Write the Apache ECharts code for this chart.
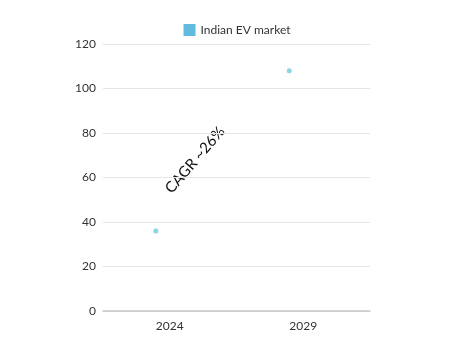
<!DOCTYPE html>
<html><head><meta charset="utf-8">
<script src="https://cdn.jsdelivr.net/npm/echarts@6/dist/echarts.min.js"></script>
<style>html,body{margin:0;padding:0;background:#fff}#c{width:474px;height:355px}</style>
</head><body><div id="c"></div>
<script>
const categories = ['2024', '2029'];
const seriesName = 'Indian EV market';
const values = [36, 108];
const yTicks = [0, 20, 40, 60, 80, 100, 120];
const annotation = 'CAGR ~26%';

const chart = echarts.init(document.getElementById('c'), null, {renderer: 'canvas'});
const font = 'Lato, "Open Sans", sans-serif';
chart.setOption({
  animation: false,
  backgroundColor: '#ffffff',
  legend: {
    top: 19, left: 'center',
    itemWidth: 12, itemHeight: 12, itemGap: 6,
    icon: 'rect',
    textStyle: {fontFamily: font, fontSize: 12, color: '#333'},
    data: [{name: seriesName, itemStyle: {color: '#38aad6'}}]
  },
  grid: {left: 103, right: 104, top: 44, bottom: 44},
  xAxis: {
    type: 'category', data: categories,
    axisLine: {lineStyle: {color: '#c8c8c8', width: 1.5}},
    axisTick: {show: false},
    axisLabel: {fontFamily: font, fontSize: 12, color: '#333', margin: 9}
  },
  yAxis: {
    type: 'value', min: yTicks[0], max: yTicks[yTicks.length - 1], interval: 20,
    axisLine: {show: false}, axisTick: {show: false},
    splitLine: {lineStyle: {color: '#e6e6e6', width: 1}},
    axisLabel: {fontFamily: font, fontSize: 12, color: '#333', margin: 7}
  },
  series: [{
    name: seriesName, type: 'scatter', data: values,
    symbolSize: 5, symbolOffset: [-14, 0],
    itemStyle: {color: '#6ccbd8'}
  }],
  graphic: [{
    type: 'text', x: 195, y: 160, rotation: 0.86,
    style: {text: annotation, fill: '#111', font: '15px ' + font, textAlign: 'center', textVerticalAlign: 'middle'}
  }]
});
</script></body></html>
